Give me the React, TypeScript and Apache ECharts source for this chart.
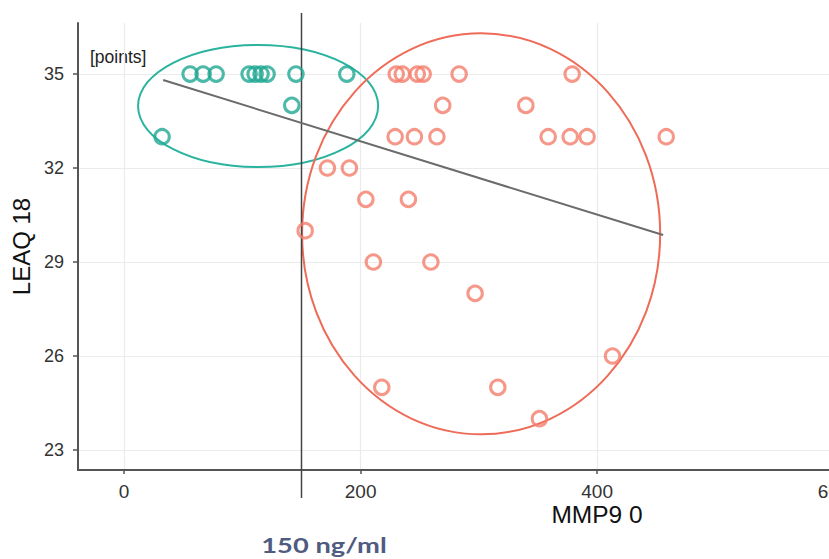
import React, { useEffect, useRef } from "react";
import * as echarts from "echarts";

// ---- data ----
const groupLowX = [55.8, 66.8, 77.8, 105.7, 110.8, 115.8, 120.9, 145.3, 188.3, 141.8, 32.1];
const groupLowY = [35, 35, 35, 35, 35, 35, 35, 35, 35, 34, 33];

const groupHighX = [
  230.1, 235.2, 247.9, 252.9, 283.3, 378.9,
  269.4, 339.7,
  229.2, 245.5, 264.5, 358.6, 377.2, 391.5, 458.4,
  171.9, 190.5,
  204.4, 240.4,
  153.1,
  210.8, 259.4,
  296.8,
  413.0,
  217.9, 316.0,
  351.2,
];
const groupHighY = [
  35, 35, 35, 35, 35, 35,
  34, 34,
  33, 33, 33, 33, 33, 33, 33,
  32, 32,
  31, 31,
  30,
  29, 29,
  28,
  26,
  25, 25,
  24,
];

// regression line endpoints [x, y]
const fitLine = [
  [33, 34.81],
  [455.8, 29.86],
];
// cutoff line at 150 ng/ml
const cutoffX = 150;
const cutoffYRange = [36.95, 21.47];

// ellipses: [cx, cy, rx, ry]
const ellipseLow = [113.3, 33.98, 101.5, 1.95];
const ellipseHigh = [301.9, 29.9, 151.4, 6.4];

const xTicks = [0, 200, 400, 600];
const yTicks = [23, 26, 29, 32, 35];

const TEAL = "#20a894";
const SALMON = "#f47e6b";
const TEAL_LINE = "#2ab39e";
const SALMON_LINE = "#ee6b58";
const FONT = "Liberation Sans, Arial, sans-serif";

export default function App() {
  const ref = useRef<HTMLDivElement>(null);

  useEffect(() => {
    if (!ref.current) return;
    const chart = echarts.init(ref.current, undefined, { renderer: "svg" });

    const ellipseSeries = (e: number[], color: string) => ({
      type: "custom",
      silent: true,
      data: [e],
      renderItem: (params: any, api: any) => {
        const c = api.coord([api.value(0), api.value(1)]);
        const s = api.size([api.value(2), api.value(3)]);
        return {
          type: "ellipse",
          shape: { cx: c[0], cy: c[1], rx: s[0], ry: s[1] },
          style: { fill: "none", stroke: color, lineWidth: 2 },
        };
      },
      z: 2,
    });

    chart.setOption({
      animation: false,
      backgroundColor: "#ffffff",
      grid: { left: 78, top: 23, width: 779.3, height: 447 },
      xAxis: {
        type: "value",
        min: -39,
        max: 620,
        axisLine: { show: true, onZero: false, lineStyle: { color: "#555", width: 2 } },
        axisTick: {
          show: true,
          customValues: xTicks,
          length: 4,
          lineStyle: { color: "#555", width: 1.5 },
        },
        axisLabel: {
          customValues: xTicks,
          margin: 12,
          fontSize: 19,
          color: "#333",
          fontFamily: FONT,
        },
        splitLine: { show: true, lineStyle: { color: "#ebebeb", width: 1.2 } },
      },
      yAxis: {
        type: "value",
        min: 22.36,
        max: 36.63,
        name: "LEAQ 18",
        nameLocation: "middle",
        nameGap: 42,
        nameTextStyle: { fontSize: 24, color: "#111", fontFamily: FONT },
        axisLine: { show: true, onZero: false, lineStyle: { color: "#555", width: 2 } },
        axisTick: {
          show: true,
          customValues: yTicks,
          length: 5,
          lineStyle: { color: "#555", width: 1.5 },
        },
        axisLabel: {
          customValues: yTicks,
          margin: 14,
          fontSize: 18,
          color: "#333",
          fontFamily: FONT,
        },
        splitLine: { show: true, lineStyle: { color: "#ebebeb", width: 1.2 } },
      },
      graphic: [
        {
          type: "text",
          left: 90,
          top: 48,
          style: { text: "[points]", fontSize: 17.5, fill: "#222", fontFamily: FONT },
        },
        {
          type: "text",
          x: 597,
          y: 514,
          style: {
            text: "MMP9 0",
            fontSize: 24.5,
            fill: "#111",
            fontFamily: FONT,
            align: "center",
            verticalAlign: "middle",
          },
        },
        {
          type: "text",
          x: 324,
          y: 545,
          scaleX: 1.3,
          style: {
            text: "150 ng/ml",
            fontSize: 21,
            fontWeight: "bold",
            fill: "#505b80",
            fontFamily: "Lato",
            align: "center",
            verticalAlign: "middle",
          },
        },
      ],
      series: [
        ellipseSeries(ellipseLow, TEAL_LINE),
        ellipseSeries(ellipseHigh, SALMON_LINE),
        {
          type: "line",
          data: [
            [cutoffX, cutoffYRange[0]],
            [cutoffX, cutoffYRange[1]],
          ],
          clip: false,
          symbol: "none",
          silent: true,
          lineStyle: { color: "#444", width: 1.5 },
          z: 3,
        },
        {
          type: "line",
          data: fitLine,
          symbol: "none",
          silent: true,
          lineStyle: { color: "#6b6b6b", width: 2 },
          z: 3,
        },
        {
          type: "scatter",
          data: groupLowX.map((x, i) => [x, groupLowY[i]]),
          symbol: "circle",
          symbolSize: 14.5,
          itemStyle: { color: "rgba(0,0,0,0)", borderColor: TEAL, borderWidth: 3 },
          z: 4,
        },
        {
          type: "scatter",
          data: groupHighX.map((x, i) => [x, groupHighY[i]]),
          symbol: "circle",
          symbolSize: 14.5,
          itemStyle: { color: "rgba(0,0,0,0)", borderColor: SALMON, borderWidth: 3 },
          z: 4,
        },
      ],
    });

    return () => chart.dispose();
  }, []);

  return (
    <div
      style={{
        position: "fixed",
        left: 0,
        top: 0,
        width: 829,
        height: 559,
        overflow: "hidden",
        background: "#fff",
      }}
    >
      <div ref={ref} style={{ position: "absolute", left: 0, top: 0, width: 870, height: 559 }} />
    </div>
  );
}
